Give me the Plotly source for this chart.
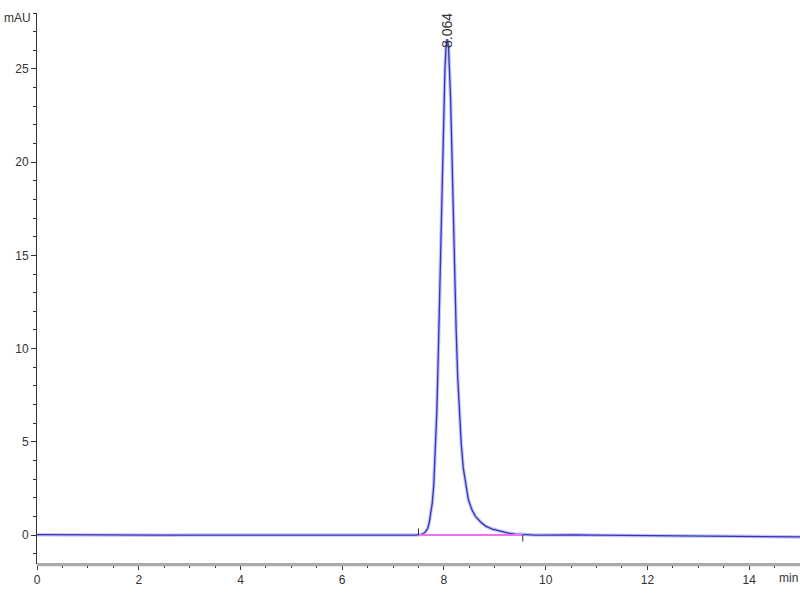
import plotly.graph_objects as go

# Chromatogram data (time in min, absorbance in mAU)
time_min = [0.0, 0.5, 1.0, 1.5, 2.0, 2.5, 3.0, 3.5, 4.0, 4.5, 5.0, 5.5, 6.0, 6.5, 7.0, 7.3,
            7.45, 7.55, 7.60, 7.64, 7.68, 7.71, 7.74, 7.77, 7.80, 7.83, 7.86, 7.89, 7.92,
            7.95, 7.98, 8.00, 8.02, 8.04, 8.064, 8.09, 8.11, 8.13, 8.15, 8.17, 8.19, 8.21,
            8.24, 8.27, 8.30, 8.34, 8.38, 8.43, 8.48, 8.55, 8.62, 8.72, 8.82, 8.95, 9.10,
            9.25, 9.40, 9.55, 9.8, 10.0, 10.3, 10.6, 11.0, 11.5, 12.0, 12.5, 13.0, 13.5,
            14.0, 14.4, 14.7, 15.0]
absorbance = [0.02, 0.01, -0.01, 0.0, 0.0, -0.01, 0.0, 0.0, -0.01, -0.01, -0.02, -0.02, -0.02, -0.01, -0.02, -0.02,
              0.0, 0.03, 0.08, 0.18, 0.35, 0.65, 1.1, 1.7, 2.7, 4.3, 6.6, 9.8, 13.5,
              17.2, 20.6, 23.2, 25.0, 26.1, 26.6, 26.2, 25.2, 23.5, 21.3, 18.8, 16.2, 13.8,
              11.0, 8.5, 6.7, 4.9, 3.6, 2.6, 1.9, 1.35, 1.0, 0.7, 0.48, 0.32, 0.2,
              0.11, 0.05, 0.02, 0.0, 0.0, 0.02, 0.01, -0.01, -0.02, -0.02, -0.03, -0.03, -0.04,
              -0.05, -0.06, -0.09, -0.1]

peak_rt = 8.064
peak_label = "8.064"
integ_start, integ_end = 7.5, 9.55
integ_base = [0.0, 0.0]

x_ticks = [0, 2, 4, 6, 8, 10, 12, 14]
y_ticks = [0, 5, 10, 15, 20, 25]

fig = go.Figure()
fig.add_trace(go.Scatter(x=time_min, y=absorbance, mode="lines",
                         line=dict(color="rgba(90,90,220,0.35)", width=3.5), hoverinfo="skip"))
fig.add_trace(go.Scatter(x=time_min, y=absorbance, mode="lines",
                         line=dict(color="#3434c0", width=1.3)))
fig.add_trace(go.Scatter(x=[integ_start, integ_end], y=integ_base, mode="lines",
                         line=dict(color="#f070f0", width=2)))

# integration tick marks
fig.add_shape(type="line", x0=integ_start, x1=integ_start, y0=0, y1=0.35,
              line=dict(color="#333", width=1))
fig.add_shape(type="line", x0=integ_end, x1=integ_end, y0=0, y1=-0.35,
              line=dict(color="#333", width=1))
# grey shadow under the time axis
fig.add_shape(type="rect", xref="paper", yref="paper", x0=0, x1=1, y0=-0.0, y1=-0.006,
              fillcolor="#aaaaaa", line=dict(width=0), layer="above")

font_fam = "Liberation Sans Narrow, Arial Narrow, Liberation Sans, sans-serif"

fig.add_annotation(x=peak_rt, y=26.0, text=peak_label, textangle=-90, showarrow=False,
                   xanchor="center", yanchor="bottom",
                   font=dict(family=font_fam, size=14, color="#333"))
fig.add_annotation(x=0, y=1, xref="paper", yref="paper", text="mAU", showarrow=False,
                   xanchor="left", yanchor="middle", xshift=-35, yshift=-5,
                   font=dict(family=font_fam, size=12, color="#333"))
fig.add_annotation(x=14.55, y=0, xref="x", yref="paper", text="min", showarrow=False,
                   xanchor="left", yanchor="top", yshift=-6,
                   font=dict(family=font_fam, size=12, color="#333"))

fig.update_layout(
    width=800, height=600,
    margin=dict(l=37, r=0, t=13, b=37),
    plot_bgcolor="white", paper_bgcolor="white",
    showlegend=False,
    font=dict(family=font_fam, size=12, color="#333"),
    xaxis=dict(range=[0, 15], tickvals=x_ticks, ticks="outside", ticklen=6, tickwidth=1,
               tickcolor="#333", showline=True, linecolor="#333", linewidth=1,
               showgrid=False, zeroline=False, automargin=False,
               minor=dict(dtick=0.5, tick0=0, ticks="outside", ticklen=4, tickcolor="#333")),
    yaxis=dict(range=[-1.5, 28], tickvals=y_ticks, ticks="outside", ticklen=5, tickwidth=1,
               tickcolor="#333", showline=True, linecolor="#333", linewidth=1,
               showgrid=False, zeroline=False, automargin=False,
               minor=dict(dtick=1, tick0=0, ticks="outside", ticklen=3, tickcolor="#333")),
)

# remove the default 8px page margin so the figure fills the 800x600 window
fig.write_html("out.html", config={"displayModeBar": False},
               post_script="document.body.style.margin='0';document.body.style.overflow='hidden';")
